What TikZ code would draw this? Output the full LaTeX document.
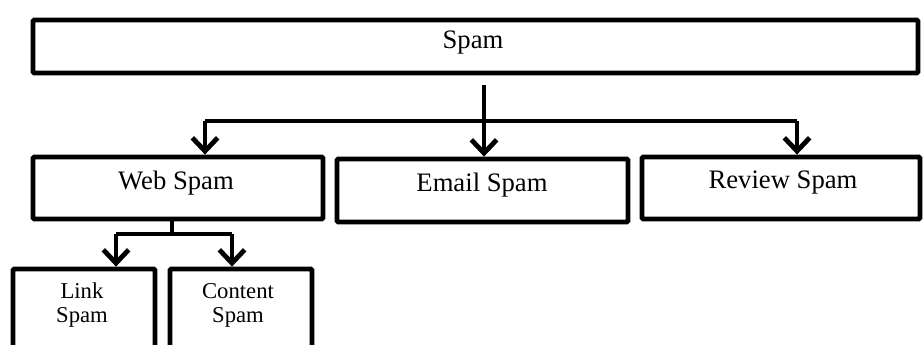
\documentclass[tikz,border=0pt]{standalone}
\usepackage{fontspec}
\setmainfont{Liberation Serif}
\usetikzlibrary{arrows.meta}
\def\px{0.75pt}
\begin{document}
\begin{tikzpicture}[x=0.75pt,y=-0.75pt,
  box/.style 2 args={draw, line width=3.6pt, rectangle, rounded corners=1pt,
    minimum width=#1*\px, minimum height=#2*\px, inner sep=0pt},
  big/.style={font=\fontsize{20}{22}\selectfont, inner sep=0pt},
  small/.style={font=\fontsize{17}{18}\selectfont, align=center, inner sep=0pt},
  link/.style={line width=3.6pt},
  arr/.style={line width=3.6pt, -{Straight Barb[length=10pt,width=19pt]}}
]
\useasboundingbox (0,0) rectangle (924,345);
\clip (0,0) rectangle (924,345);

% boxes
\node[box={885}{53}] (spam) at (475.5,46.5) {};
\node[box={290}{62}] (web) at (178,188) {};
\node[box={291}{63}] (email) at (482.5,190.5) {};
\node[box={278}{62}] (review) at (781,188) {};
\node[box={142}{100}] (linkspam) at (84,319) {};
\node[box={142}{100}] (content) at (241,319) {};

% labels
\node[big] (spam-t) at (473,43) {Spam};
\node[big] (web-t) at (176,183) {Web Spam};
\node[big] (email-t) at (482,185) {Email Spam};
\node[big] (review-t) at (783,183) {Review Spam};
\node[small] (linkspam-t) at (82,305) {Link\\Spam};
\node[small] (content-t) at (238,305) {Content\\Spam};

% top-level branching
\coordinate (hub) at (484,121);
\coordinate (lbar) at (205,121);
\coordinate (rbar) at (797,121);
\draw[link] ([yshift=-7pt]spam.south -| hub) -- (hub);
\draw[link] (lbar) -- (rbar);
\draw[arr] (lbar) -- (lbar |- web.north);
\draw[arr] (hub) -- (hub |- email.north);
\draw[arr] (rbar) -- (rbar |- review.north);

% web spam branching
\coordinate (wstem) at (172,234);
\coordinate (wl) at (116,234);
\coordinate (wr) at (232,234);
\draw[link] (web.south -| wstem) -- (wstem);
\draw[link] (wl) -- (wr);
\draw[arr] (wl) -- (wl |- linkspam.north);
\draw[arr] (wr) -- (wr |- content.north);
\end{tikzpicture}
\end{document}
